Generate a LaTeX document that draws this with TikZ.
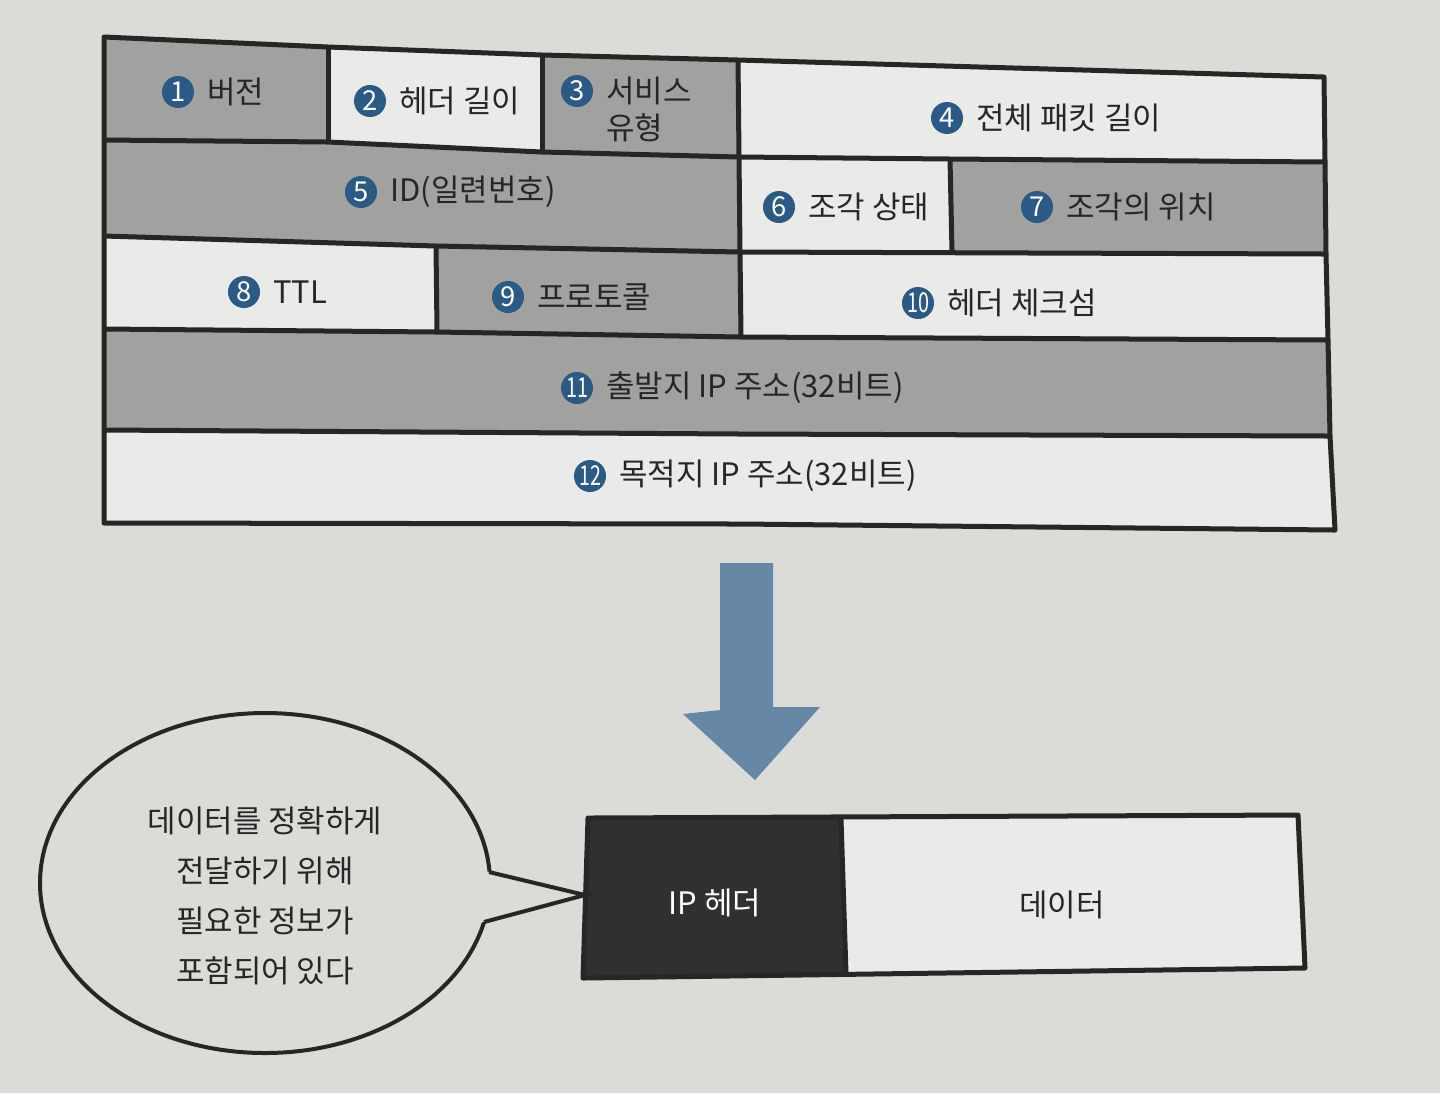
\documentclass[tikz,border=0pt]{standalone}
\usepackage{fontspec}
\newfontfamily\kr{Noto Sans CJK KR}
\usetikzlibrary{positioning}
\definecolor{paper}{HTML}{DBDBD8}
\definecolor{cellwhite}{HTML}{EAEAE8}
\definecolor{cellgray}{HTML}{A1A1A0}
\definecolor{numblue}{HTML}{2D5A84}
\definecolor{arrowblue}{HTML}{6787A7}
\definecolor{ink}{HTML}{262626}
\definecolor{hdrblack}{HTML}{303030}

\begin{document}
\begin{tikzpicture}[x=0.01cm, y=-0.01cm,
		frame/.style={line width=0.05cm, draw=ink, line join=round},
		graycell/.style={fill=cellgray},
		whitecell/.style={fill=cellwhite},
		num/.style={circle, fill=numblue, text=white, minimum size=0.32cm, inner sep=0pt, font=\kr\fontsize{7.8pt}{8pt}\selectfont},
		lbl/.style={inner sep=0pt, text=ink, font=\kr\fontsize{8.8pt}{10pt}\selectfont},
		bubble/.style={line width=0.04cm, draw=ink, fill=paper}]
	\fill[paper] (0,0) rectangle (1440,1093);

	% header cells
		\fill[graycell] (104,37) -- (328,47) -- (328,142) -- (104,140) -- cycle;
		\fill[whitecell] (328,47) -- (542,55) -- (542,152) -- (328,142) -- cycle;
		\fill[graycell] (542,55) -- (738,60) -- (739,157) -- (542,152) -- cycle;
		\fill[whitecell] (738,60) -- (1324,77) -- (1325,162) -- (739,157) -- cycle;
		\fill[graycell] (104,140) -- (328,142) -- (542,152) -- (739,157) -- (740,252) -- (436,246) -- (104,236) -- cycle;
		\fill[whitecell] (739,157) -- (950,159) -- (952,252) -- (740,252) -- cycle;
		\fill[graycell] (950,159) -- (1325,162) -- (1326,254) -- (952,252) -- cycle;
		\fill[whitecell] (104,236) -- (436,246) -- (437,332) -- (104,329) -- cycle;
		\fill[graycell] (436,246) -- (740,252) -- (741,337) -- (437,332) -- cycle;
		\fill[whitecell] (740,252) -- (1326,254) -- (1328,340) -- (741,337) -- cycle;
		\fill[graycell] (104,329) -- (437,332) -- (741,337) -- (1328,340) -- (1330,436) -- (741,434) -- (104,430) -- cycle;
		\fill[whitecell] (104,430) -- (741,434) -- (1330,436) -- (1335,530) -- (741,524) -- (104,523) -- cycle;

	\draw[frame] (104,37) -- (328,47) -- (542,55) -- (738,60) -- (1324,77) -- (1325,162) -- (1326,254) -- (1328,340) -- (1330,436) -- (1335,530) -- (741,524) -- (104,523) -- cycle;
		\draw[frame] (104,140) -- (328,142) -- (542,152) -- (739,157) -- (950,159) -- (1325,162);
		\draw[frame] (104,236) -- (436,246) -- (740,252) -- (1326,254);
		\draw[frame] (104,329) -- (437,332) -- (741,337) -- (1328,340);
		\draw[frame] (104,430) -- (741,434) -- (1330,436);
		\draw[frame] (328,47) -- (328,142);
		\draw[frame] (542,55) -- (542,152);
		\draw[frame] (738,60) -- (739,157) -- (740,252) -- (741,337);
		\draw[frame] (950,159) -- (952,252);
		\draw[frame] (436,246) -- (437,332);

	\node[num] (n1) at (178,92) {1};
		\node[lbl, right=0.12cm of n1] (version) {버전};
	\node[num] (n2) at (370,101) {2};
		\node[lbl, right=0.12cm of n2] (hdrlen) {헤더 길이};
	\node[num] (n3) at (577,91) {3};
		\node[lbl, right=0.12cm of n3] (svc) {서비스};
		\node[lbl, anchor=north west] (svctype) at ([yshift=-0.07cm]svc.south west) {유형};
	\node[num] (n4) at (947,118) {4};
		\node[lbl, right=0.12cm of n4] (totlen) {전체 패킷 길이};
	\node[num] (n5) at (361,192) {5};
		\node[lbl, right=0.12cm of n5] (ident) {ID(일련번호)};
	\node[num] (n6) at (779,207) {6};
		\node[lbl, right=0.12cm of n6] (flags) {조각 상태};
	\node[num] (n7) at (1037,207) {7};
		\node[lbl, right=0.12cm of n7] (fragoff) {조각의 위치};
	\node[num] (n8) at (244,292) {8};
		\node[lbl, right=0.12cm of n8] (ttl) {TTL};
	\node[num] (n9) at (508,297) {9};
		\node[lbl, right=0.12cm of n9] (proto) {프로토콜};
	\node[num] (n10) at (918,303) {\scalebox{0.72}[1]{10}};
		\node[lbl, right=0.12cm of n10] (chksum) {헤더 체크섬};
	\node[num] (n11) at (577,388) {\scalebox{0.72}[1]{11}};
		\node[lbl, right=0.12cm of n11] (srcip) {출발지 IP 주소(32비트)};
	\node[num] (n12) at (590,476) {\scalebox{0.72}[1]{12}};
		\node[lbl, right=0.12cm of n12] (dstip) {목적지 IP 주소(32비트)};

	% arrow down
	\fill[arrowblue] (720,563) -- (773,563) -- (773,707) -- (820,707) -- (755,780) -- (683,714) -- (720,710) -- cycle;

	% packet
		\fill[hdrblack] (588,818) -- (841,819) -- (846,974) -- (583,978) -- cycle;
		\fill[whitecell] (841,819) -- (1298,815) -- (1305,968) -- (846,974) -- cycle;
	\draw[frame] (588,818) -- (1298,815) -- (1305,968) -- (583,978) -- cycle;
		\draw[frame] (841,819) -- (846,974);
		\node[lbl, text=white] (iphdr) at (715,903) {IP 헤더};
		\node[lbl] (payload) at (1062,905) {데이터};

	% speech bubble
	\draw[bubble] (265,883) ellipse [x radius=225, y radius=170];
		\fill[paper] (460,865) -- (585,895) -- (460,928) -- cycle;
		\coordinate (tip) at (585,895);
		\draw[bubble, fill=none] (489,872) -- (tip) -- (484,922);
		\node[lbl, align=center, font=\kr\fontsize{8.8pt}{14.2pt}\selectfont] (note) at (265,896) {데이터를 정확하게\\전달하기 위해\\필요한 정보가\\포함되어 있다};
\end{tikzpicture}
\end{document}
